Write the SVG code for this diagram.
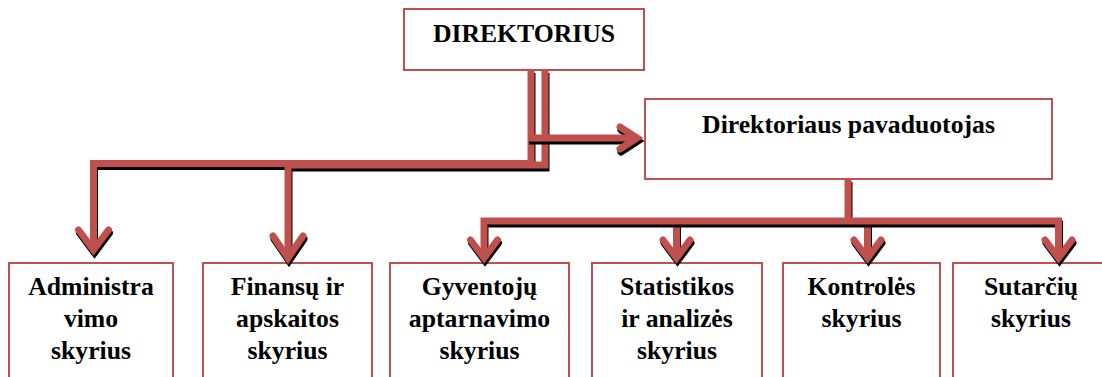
<svg xmlns="http://www.w3.org/2000/svg" width="1102" height="377" viewBox="0 0 1102 377">
<style>
.box{fill:#fff;stroke:#c0504d;stroke-width:2}
.t{font-family:"Liberation Serif","Times New Roman",serif;font-weight:bold;font-size:25.7px;fill:#000;text-anchor:middle}
.sh{fill:none;stroke:#000;stroke-width:7}
.ln{fill:none;stroke:#c0504d;stroke-width:7}
.shaft{stroke-linecap:butt;stroke-linejoin:miter}
.head{stroke-linecap:round;stroke-linejoin:miter;stroke-miterlimit:10}
</style>
<defs>
<g id="c-admin"><path class="shaft" d="M531,70 V163.5 H93.5 V249"/><path class="head" d="M78.5,230 L93.5,250 L108.5,230"/></g>
<g id="c-fin"><path class="shaft" d="M545,70 V165 H288 V257"/><path class="head" d="M273,236 L288,258 L303,236"/></g>
<g id="c-dep"><path class="shaft" d="M528,138 H636"/><path class="head" d="M620,127 L637,138 L620,149"/></g>
<g id="c-stat"><path class="shaft" d="M676.5,221 V257"/><path class="head" d="M663,240 L676.5,258 L690,240"/></g>
<g id="c-kont"><path class="shaft" d="M867.5,221 V257"/><path class="head" d="M854,240 L867.5,258 L881,240"/></g>
<g id="c-main"><path class="shaft" d="M484,257 V221 H1058.5 V257 M848,179 V221"/><path class="head" d="M470.5,240 L484,258 L497.5,240 M1045,240 L1058.5,258 L1072,240"/></g>
</defs>
<g id="n-direktorius"><rect class="box" x="404" y="9" width="240" height="61"/><text class="t" x="524" y="42">DIREKTORIUS</text></g>
<g id="n-pavaduotojas"><rect class="box" x="645" y="99" width="407" height="80"/><text class="t" x="848.5" y="133">Direktoriaus pavaduotojas</text></g>
<g id="n-administravimo"><rect class="box" x="9" y="263" width="164" height="130"/><text class="t" x="91" y="295">Administra</text><text class="t" x="91" y="327">vimo</text><text class="t" x="91" y="359">skyrius</text></g>
<g id="n-finansu"><rect class="box" x="203" y="263" width="169" height="130"/><text class="t" x="287.5" y="295">Finansų ir</text><text class="t" x="287.5" y="327">apskaitos</text><text class="t" x="287.5" y="359">skyrius</text></g>
<g id="n-gyventoju"><rect class="box" x="390" y="263" width="179" height="130"/><text class="t" x="479.5" y="295">Gyventojų</text><text class="t" x="479.5" y="327">aptarnavimo</text><text class="t" x="479.5" y="359">skyrius</text></g>
<g id="n-statistikos"><rect class="box" x="592" y="263" width="170" height="130"/><text class="t" x="677" y="295">Statistikos</text><text class="t" x="677" y="327">ir analizės</text><text class="t" x="677" y="359">skyrius</text></g>
<g id="n-kontroles"><rect class="box" x="783" y="263" width="157" height="130"/><text class="t" x="861.5" y="295">Kontrolės</text><text class="t" x="861.5" y="327">skyrius</text></g>
<g id="n-sutarciu"><rect class="box" x="953" y="263" width="156" height="130"/><text class="t" x="1031" y="295">Sutarčių</text><text class="t" x="1031" y="327">skyrius</text></g>
<g id="connectors">
<use href="#c-admin" class="sh" transform="translate(1,3)"/><use href="#c-admin" class="ln"/>
<use href="#c-fin" class="sh" transform="translate(1,3)"/><use href="#c-fin" class="ln"/>
<use href="#c-dep" class="sh" transform="translate(1,3)"/><use href="#c-dep" class="ln"/>
<use href="#c-stat" class="sh" transform="translate(1,3)"/><use href="#c-stat" class="ln"/>
<use href="#c-kont" class="sh" transform="translate(1,3)"/><use href="#c-kont" class="ln"/>
<use href="#c-main" class="sh" transform="translate(1,3)"/><use href="#c-main" class="ln"/>
</g>
</svg>
